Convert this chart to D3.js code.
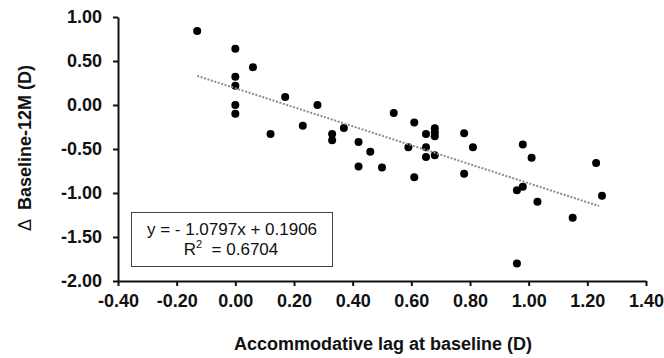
<!DOCTYPE html>
<html>
<head>
<meta charset="utf-8">
<script src="https://cdn.jsdelivr.net/npm/d3@7"></script>
<style>
  body { margin: 0; background: #fff; }
  svg text { font-family: "Liberation Sans", Arial, sans-serif; }
</style>
</head>
<body>
<div id="chart-area"></div>
<script>
const W = 664, H = 358

// accommodative lag at baseline (D)
const lagX = [-0.13, 0.00, 0.00, 0.00, 0.00, 0.00, 0.06, 0.12, 0.17, 0.23,
  0.28, 0.33, 0.33, 0.37, 0.42, 0.42, 0.46, 0.50, 0.54, 0.59,
  0.61, 0.61, 0.65, 0.65, 0.65, 0.68, 0.68, 0.68, 0.68, 0.78,
  0.78, 0.81, 0.96, 0.96, 0.98, 0.98, 1.01, 1.03, 1.15, 1.23, 1.25]
// change baseline-12M (D)
const changeY = [0.84, 0.64, 0.32, 0.22, 0.00, -0.10, 0.43, -0.33, 0.09, -0.235,
  0.00, -0.33, -0.40, -0.26, -0.42, -0.70, -0.53, -0.71, -0.09, -0.48,
  -0.20, -0.82, -0.33, -0.48, -0.59, -0.265, -0.31, -0.355, -0.57, -0.32,
  -0.78, -0.48, -0.97, -1.80, -0.45, -0.93, -0.60, -1.10, -1.28, -0.66, -1.03]

const xTicks = [-0.4, -0.2, 0, 0.2, 0.4, 0.6, 0.8, 1.0, 1.2, 1.4]
const yTicks = [1.0, 0.5, 0, -0.5, -1.0, -1.5, -2.0]

const slope = -1.0797, intercept = 0.1906, r2 = "0.6704"
const trendRange = [-0.13, 1.24]

const svg = d3.select("#chart-area").append("svg")
  .attr("width", W)
  .attr("height", H)

const x = d3.scaleLinear().domain([-0.4, 1.4]).range([118, 646])
const y = d3.scaleLinear().domain([-2, 1]).range([281, 17])

// axes
svg.append("g")
  .attr("transform", `translate(0,${y(-2)})`)
  .call(d3.axisBottom(x).tickValues(xTicks).tickSize(5).tickSizeOuter(0).tickPadding(8)
    .tickFormat(d3.format(".2f")))
svg.append("g")
  .attr("transform", `translate(${x(-0.4)},0)`)
  .call(d3.axisLeft(y).tickValues(yTicks).tickSize(5).tickSizeOuter(0).tickPadding(11)
    .tickFormat(d3.format(".2f")))

svg.selectAll(".domain, .tick line")
  .attr("stroke", "#111")
  .attr("stroke-width", 2)
svg.selectAll(".tick text")
  .attr("font-family", "Liberation Sans, Arial, sans-serif")
  .attr("font-size", 18)
  .attr("font-weight", "bold")
  .attr("fill", "#111")
  .text(function() { return this.textContent.replace("−", "-") })

// points
svg.selectAll("circle.pt")
  .data(lagX.map((d, i) => [d, changeY[i]]))
  .join("circle")
  .attr("class", "pt")
  .attr("cx", d => x(d[0]))
  .attr("cy", d => y(d[1]))
  .attr("r", 4)
  .attr("fill", "#000")

// linear trend
svg.append("line")
  .attr("x1", x(trendRange[0]))
  .attr("y1", y(slope * trendRange[0] + intercept))
  .attr("x2", x(trendRange[1]))
  .attr("y2", y(slope * trendRange[1] + intercept))
  .attr("stroke", "#8c8c8c")
  .attr("stroke-width", 2)
  .attr("stroke-dasharray", "2 1.6")

// equation box
svg.append("rect")
  .attr("x", 131.5).attr("y", 212.5)
  .attr("width", 201).attr("height", 54)
  .attr("fill", "#fff")
  .attr("stroke", "#444")
  .attr("stroke-width", 1)
svg.append("text")
  .attr("x", 232).attr("y", 235)
  .attr("text-anchor", "middle")
  .attr("font-size", 17)
  .attr("fill", "#111")
  .text(`y = - ${Math.abs(slope).toFixed(4)}x + ${intercept.toFixed(4)}`)
const r2Text = svg.append("text")
  .attr("x", 231).attr("y", 255)
  .attr("text-anchor", "middle")
  .attr("font-size", 17)
  .attr("fill", "#111")
  .attr("xml:space", "preserve")
r2Text.append("tspan").text("R")
r2Text.append("tspan").attr("font-size", 11).attr("dy", -7).text("2")
r2Text.append("tspan").attr("dy", 7).text("  = " + r2)

// axis titles
svg.append("text")
  .attr("x", 383).attr("y", 350)
  .attr("text-anchor", "middle")
  .attr("font-size", 18)
  .attr("font-weight", "bold")
  .attr("fill", "#111")
  .text("Accommodative lag at baseline (D)")

const yTitle = svg.append("text")
  .attr("transform", "translate(31,148) rotate(-90)")
  .attr("text-anchor", "middle")
  .attr("font-size", 18)
  .attr("fill", "#111")
  .attr("xml:space", "preserve")
yTitle.append("tspan").attr("font-weight", "normal").text("Δ  ")
yTitle.append("tspan").attr("font-weight", "bold").text("Baseline-12M (D)")
</script>
</body>
</html>
